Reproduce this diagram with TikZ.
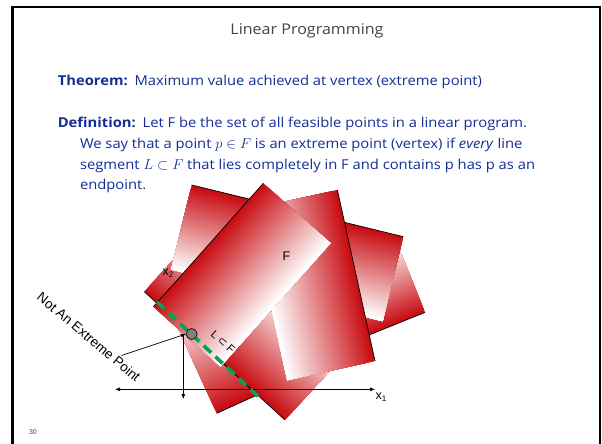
\documentclass[tikz,border=0pt]{standalone}
\usepackage{fontspec}
\setmainfont{Open Sans}[FakeStretch=1.085]
\newfontfamily\arialfont{Liberation Sans}
\newfontfamily\symbolfont{DejaVu Sans}
\usetikzlibrary{arrows.meta}
\usepackage{xcolor}
\definecolor{slabred}{RGB}{200,12,18}
\definecolor{defblue}{RGB}{20,46,150}
\definecolor{titlegrey}{RGB}{68,68,68}
\definecolor{segmentgreen}{RGB}{0,166,81}
% one rotated slab: red edge from (#1,#2), angle, length, width
\newcommand{\slab}[5]{%
  \begin{scope}[shift={(#1,#2)},rotate=#3,x=1pt,y=1pt]
    \foreach \k [evaluate=\k as \pct using {100-100*\k/44}] in {0,...,44}
      {\fill[slabred!\pct!white] (0,{#5*\k/45}) rectangle (#4,#5);}
    \draw[line width=0.7pt] (0,0)--(#4,0);
  \end{scope}%
}

\begin{document}
\begin{tikzpicture}[x=1pt,y=-1pt,
  bodytext/.style={anchor=base west,inner sep=0pt,text=defblue,font=\fontsize{13.6}{15}\selectfont},
  arialtext/.style={inner sep=0pt,font=\arialfont\fontsize{#1}{#1}\selectfont},
  thinarrow/.style={line width=0.7pt,-{Latex[length=5pt,width=4pt]}}]
\useasboundingbox (0,0) rectangle (602,444);
\fill[white] (0,0) rectangle (602,444);
\draw[line width=2.4pt] (12.5,444)--(12.5,7)--(600,7)--(600,444);
% slide text
\node[anchor=base,inner sep=0pt,text=titlegrey,font=\fontsize{14.8}{16}\selectfont] (title) at (307,35) {Linear Programming};
\node[bodytext] (thm) at (57.6,85) {\textbf{Theorem:}\enspace Maximum value achieved at vertex (extreme point)};
\node[bodytext] (def1) at (57.6,127.5) {\textbf{Definition:}\enspace Let F be the set of all feasible points in a linear program.};
\node[bodytext] (def2) at (79.8,148.5) {We say that a point $p\in F$ is an extreme point (vertex) if \emph{every} line};
\node[bodytext] (def3) at (79.8,169) {segment $L\subset F$ that lies completely in F and contains p has p as an};
\node[bodytext] (def4) at (79.8,189.5) {endpoint.};
% rectangles, back to front
\slab{272}{374.2}{22}{165}{78}
\slab{216.7}{413.3}{24.4}{160}{112}
\slab{144.3}{291.7}{-42.36}{190.4}{90}
\slab{403.3}{236.7}{-193.73}{217.8}{87}
\slab{375}{361}{-257.6}{175.1}{89.9}
\slab{263.3}{183.3}{-131.7}{165.3}{90}
% axes and segment
\coordinate (ax1left) at (115,389.3);
\coordinate (ax1right) at (375,389.3);
\coordinate (ax2top) at (183.3,335);
\coordinate (ax2end) at (183.3,399);
\coordinate (segstart) at (157,302);
\coordinate (segend) at (258.3,396.7);
\draw[line width=0.7pt,{Latex[length=5pt,width=4pt]}-{Latex[length=5pt,width=4pt]}] (ax1left)--(ax1right);
\draw[thinarrow] (ax2top)--(ax2end);
\draw[segmentgreen,line width=3.6pt,dash pattern=on 10pt off 6pt] (segstart)--(segend);
\node[circle,draw,line width=0.6pt,fill=gray,minimum size=11pt,inner sep=0pt] (pdot) at (191.7,334) {};
% labels
\node[arialtext=12.5] (flabel) at (286.5,256.5) {F};
\node[arialtext=12.5] (xtwo) at (168,273.5) {x\raisebox{-0.35ex}{\fontsize{8}{8}\selectfont 2}};
\node[arialtext=12.5] (xone) at (381,397) {x\raisebox{-0.35ex}{\fontsize{8}{8}\selectfont 1}};
\node[arialtext=11,rotate=-42] (lsubf) at (223,342) {L \symbolfont⊂\arialfont{} F};
\node[arialtext=13.5,rotate=-40] (notext) at (89,337) {Not An Extreme Point};
\coordinate (ptrstart) at (121.5,355.5);
\draw[thinarrow] (ptrstart)--(pdot.west);
\node[arialtext=7,text=titlegrey] (pagenum) at (33,432) {30};
\end{tikzpicture}
\end{document}
